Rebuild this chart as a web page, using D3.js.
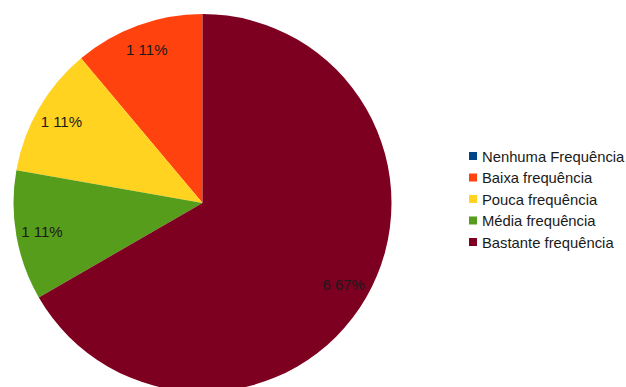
<!DOCTYPE html>
<html>
<head>
<meta charset="utf-8">
<script src="https://cdn.jsdelivr.net/npm/d3@7"></script>
<style>
  body { margin: 0; background: #fff; }
  svg { display: block; font-family: "Liberation Sans", Arial, sans-serif; }
</style>
</head>
<body>
<script>
// categories and their counts
const categories = ["Nenhuma Frequência", "Baixa frequência", "Pouca frequência", "Média frequência", "Bastante frequência"];
const counts = [0, 1, 1, 1, 6];
const colors = ["#004586", "#ff420e", "#ffd320", "#579d1c", "#7e0021"];

const w = 626;
const h = 387;
const cx = 202.5;
const cy = 203;
const radius = 189;
const labelRadius = 163;

const total = d3.sum(counts);
const data = categories.map((c, i) => ({name: c, value: counts[i], color: colors[i]}));

const svg = d3.select("body")
    .append("svg")
    .attr("width", w)
    .attr("height", h);

// pie goes counter-clockwise from 12 o'clock
const pie = d3.pie()
    .sort(null)
    .value(d => d.value)
    .startAngle(0)
    .endAngle(-2 * Math.PI);

const arc = d3.arc().innerRadius(0).outerRadius(radius);
const labelArc = d3.arc().innerRadius(labelRadius).outerRadius(labelRadius);

const g = svg.append("g").attr("transform", `translate(${cx},${cy})`);

const slices = pie(data);

g.selectAll("path")
    .data(slices.filter(d => d.data.value > 0))
    .enter()
    .append("path")
    .attr("d", arc)
    .attr("fill", d => d.data.color);

g.selectAll("text")
    .data(slices.filter(d => d.data.value > 0))
    .enter()
    .append("text")
    .attr("transform", d => `translate(${labelArc.centroid(d)})`)
    .attr("text-anchor", "middle")
    .attr("dominant-baseline", "central")
    .attr("font-size", 15)
    .attr("fill", "#1a1a1a")
    .text(d => d.data.value + " " + Math.round(d.data.value / total * 100) + "%");

// legend
const legendX = 469;
const legendY = 156;
const rowH = 21.5;

const legend = svg.append("g");

const rows = legend.selectAll("g")
    .data(data)
    .enter()
    .append("g")
    .attr("transform", (d, i) => `translate(${legendX},${legendY + i * rowH})`);

rows.append("rect")
    .attr("x", 0)
    .attr("y", -4)
    .attr("width", 8)
    .attr("height", 8)
    .attr("fill", d => d.color);

rows.append("text")
    .attr("x", 13)
    .attr("y", 0.5)
    .attr("dominant-baseline", "central")
    .attr("font-size", 14.8)
    .attr("fill", "#1a1a1a")
    .text(d => d.name);
</script>
</body>
</html>
